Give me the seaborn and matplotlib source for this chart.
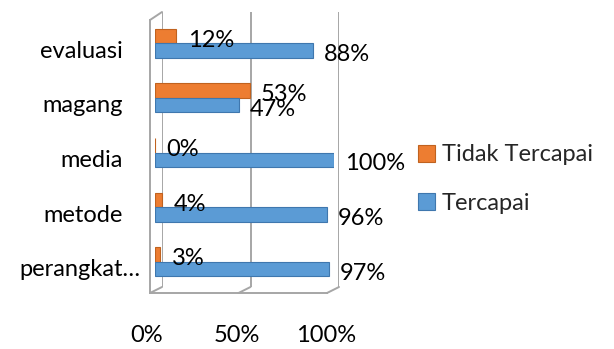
import matplotlib
matplotlib.use("Agg")
import matplotlib.pyplot as plt
import matplotlib.transforms as mtransforms
from matplotlib.lines import Line2D
import seaborn as sns
import pandas as pd

# ---- data ----
categories = ["evaluasi", "magang", "media", "metode", "perangkat…"]
tidak_tercapai = [12, 53, 0, 4, 3]
tercapai = [88, 47, 100, 96, 97]
series_names = ["Tidak Tercapai", "Tercapai"]
x_ticks = [0, 50, 100]
x_tick_labels = ["0%", "50%", "100%"]

df = pd.DataFrame({
    "kategori": categories * 2,
    "seri": [series_names[0]] * len(categories) + [series_names[1]] * len(categories),
    "nilai": tidak_tercapai + tercapai,
})

sns.set_theme(style="white")
plt.rcParams["font.family"] = ["Lato", "DejaVu Sans"]
FS = 17
GRAY = "#A6A6A6"

W, H = 614, 349
fig = plt.figure(figsize=(W / 100, H / 100), dpi=100)


def rect(x0, y0, x1, y1):
    return [x0 / W, 1 - y1 / H, (x1 - x0) / W, (y1 - y0) / H]


# back wall (gridlines)
back = fig.add_axes(rect(162, 12, 339, 287))
back.set_xlim(0, 100)
back.set_ylim(4.5, -0.5)
back.set_facecolor("none")
for s in back.spines.values():
    s.set_visible(False)
back.set_xticks(x_ticks)
back.set_yticks([])
back.tick_params(axis="x", length=0, labelbottom=False)
back.grid(axis="x", color=GRAY, linewidth=1.4)
back.set_zorder(0)

# main bars axes
ax = fig.add_axes(rect(155, 16, 334, 289))
ax.set_zorder(2)
ax.set_facecolor("none")
palette = {series_names[0]: "#ED7D31", series_names[1]: "#5B9BD5"}
sns.barplot(data=df, y="kategori", x="nilai", hue="seri", hue_order=series_names,
            order=categories, palette=palette, width=0.53, saturation=1,
            orient="h", ax=ax, legend=True)
edge = {"#ED7D31": "#C0621F", "#5B9BD5": "#3F77AE"}
for p in ax.patches:
    fc = matplotlib.colors.to_hex(p.get_facecolor())
    p.set_edgecolor(edge.get(fc.upper(), "#555555"))
    p.set_linewidth(0.8)

ax.set_xlim(0, 100)
ax.set_ylim(4.5, -0.5)
for s in ax.spines.values():
    s.set_visible(False)
ax.set_xlabel("")
ax.set_ylabel("")
ax.set_xticks(x_ticks)
ax.set_xticklabels(x_tick_labels)
ax.tick_params(axis="x", length=0, pad=26, labelsize=FS, colors="black")
ax.tick_params(axis="y", length=0, pad=23, labelsize=FS, colors="black")
for lab in ax.get_xticklabels():
    lab.set_transform(lab.get_transform() + mtransforms.ScaledTranslation(-8 / 100, 0, fig.dpi_scale_trans))
for lab in ax.get_yticklabels():
    dx = 17 if lab.get_text().endswith("…") else 0
    lab.set_transform(lab.get_transform() + mtransforms.ScaledTranslation(dx / 100, -6 / 100, fig.dpi_scale_trans))

# data labels
for p in ax.patches:
    w = p.get_width()
    if p.get_height() <= 0:
        continue
    yc = p.get_y() + p.get_height() / 2
    ax.annotate(f"{w:.0f}%", xy=(w, yc), xytext=(8, -3), textcoords="offset points",
                ha="left", va="center", fontsize=FS, color="black")

# legend
handles, labels = ax.get_legend_handles_labels()
ax.legend(handles, labels, loc="center left", bbox_to_anchor=(418 / W, 1 - 179 / H),
          bbox_transform=fig.transFigure, frameon=False, fontsize=FS,
          handlelength=0.72, handleheight=0.72, handletextpad=0.3, labelspacing=1.15,
          borderaxespad=0, borderpad=0)

# front plane (axis lines and ticks)
front = fig.add_axes(rect(150, 20, 327, 293))
front.set_zorder(1)
front.set_facecolor("none")
front.set_xlim(0, 100)
front.set_ylim(4.5, -0.5)
for k in ["top", "right"]:
    front.spines[k].set_visible(False)
for k in ["left", "bottom"]:
    front.spines[k].set_color(GRAY)
    front.spines[k].set_linewidth(1.4)
front.set_xticks(x_ticks)
front.set_xticklabels([])
front.set_yticks([i - 0.5 for i in range(len(categories) + 1)])
front.set_yticklabels([])
front.tick_params(axis="both", length=5, width=1.4, color=GRAY, direction="out")

# 3D connectors between front plane and back wall
def fig_pt(x, y):
    return (x / W, 1 - y / H)

conn = [((150, 20), (162, 12)), ((150, 293), (162, 287)), ((238.5, 293), (250.5, 287)),
        ((327, 293), (339, 287))]
for a, b in conn:
    (x0, y0), (x1, y1) = fig_pt(*a), fig_pt(*b)
    fig.add_artist(Line2D([x0, x1], [y0, y1], transform=fig.transFigure, color=GRAY, lw=1.4))

fig.savefig("out.png", dpi=100)
